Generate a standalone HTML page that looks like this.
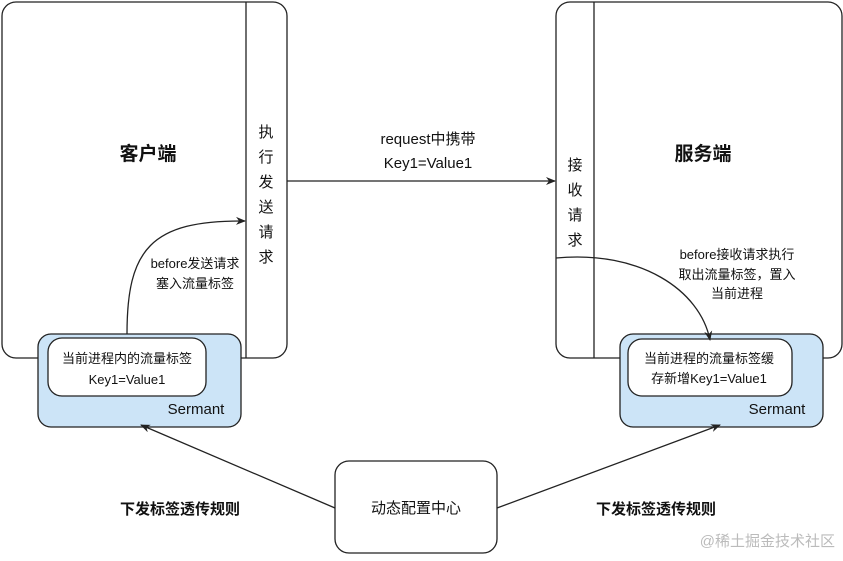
<!DOCTYPE html>
<html><head><meta charset="utf-8"><style>
html,body{margin:0;padding:0;background:#fff;}
svg text{font-family:"Liberation Sans","Noto Sans CJK SC",sans-serif;fill:#111;}
</style></head><body>
<svg width="843" height="556" viewBox="0 0 843 556" xmlns="http://www.w3.org/2000/svg">
<defs><marker id="a" markerWidth="10" markerHeight="10" refX="9" refY="5" orient="auto" markerUnits="userSpaceOnUse"><path d="M0,1 L10,5 L0,9 L3,5 z" fill="#222"/></marker></defs>
<g stroke="#222" stroke-width="1.3" fill="none">
<rect x="2" y="2" width="285" height="356" rx="14" fill="#fff"/>
<line x1="246" y1="2" x2="246" y2="358"/>
<rect x="556" y="2" width="286" height="356" rx="14" fill="#fff"/>
<line x1="594" y1="2" x2="594" y2="358"/>
<line x1="287" y1="181" x2="555" y2="181" marker-end="url(#a)"/>
<rect x="38" y="334" width="203" height="93" rx="13" fill="#cce4f7"/>
<rect x="48" y="338" width="158" height="58" rx="14" fill="#fff"/>
<rect x="620" y="334" width="203" height="93" rx="13" fill="#cce4f7"/>
<rect x="628" y="339" width="164" height="57" rx="14" fill="#fff"/>
<path d="M127,334 C127,250 150,220 245,221" marker-end="url(#a)"/>
<path d="M556,258 C640,250 700,290 710,340" marker-end="url(#a)"/>
<rect x="335" y="461" width="162" height="92" rx="14" fill="#fff"/>
<line x1="335" y1="508" x2="141" y2="425" marker-end="url(#a)"/>
<line x1="497" y1="508" x2="720" y2="425" marker-end="url(#a)"/>
</g>
<text x="148" y="160" font-size="19" font-weight="bold" text-anchor="middle">客户端</text>
<text x="703" y="160" font-size="19" font-weight="bold" text-anchor="middle">服务端</text>
<g font-size="15" text-anchor="middle">
<text x="266" y="137">执</text><text x="266" y="162">行</text><text x="266" y="187">发</text><text x="266" y="212">送</text><text x="266" y="237">请</text><text x="266" y="262">求</text>
<text x="575" y="170">接</text><text x="575" y="195">收</text><text x="575" y="220">请</text><text x="575" y="245">求</text>
<text x="428" y="144">request中携带</text>
<text x="428" y="168">Key1=Value1</text>
<text x="416" y="513">动态配置中心</text>
</g>
<text x="120" y="514" font-size="15" font-weight="bold">下发标签透传规则</text>
<text x="596" y="514" font-size="15" font-weight="bold">下发标签透传规则</text>
<g font-size="13" text-anchor="middle">
<text x="195" y="268">before发送请求</text>
<text x="195" y="288">塞入流量标签</text>
<text x="737" y="259">before接收请求执行</text>
<text x="737" y="279">取出流量标签，置入</text>
<text x="737" y="298">当前进程</text>
<text x="127" y="363">当前进程内的流量标签</text>
<text x="127" y="384">Key1=Value1</text>
<text x="709" y="363">当前进程的流量标签缓</text>
<text x="709" y="383">存新增Key1=Value1</text>
</g>
<text x="196" y="414" font-size="15" text-anchor="middle">Sermant</text>
<text x="777" y="414" font-size="15" text-anchor="middle">Sermant</text>
<text x="835" y="546" font-size="15" text-anchor="end" style="fill:#bbb">@稀土掘金技术社区</text>
</svg>
</body></html>
